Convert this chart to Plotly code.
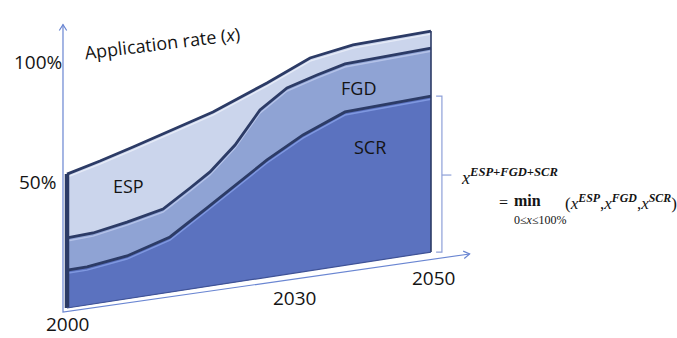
import math
import plotly.graph_objects as go

# ---------------- data (years / application rate in %) ----------------
floor_years = [2000, 2050]
floor_pct = [-2.5, 20.8]

scr_years = [2000, 2002.75, 2008.24, 2014.15, 2019.23, 2023.76, 2027.47, 2032.42, 2038.19, 2050]
scr_pct = [13.3, 14.6, 19.2, 27.1, 39.2, 50.0, 59.2, 69.6, 79.2, 85.8]

fgd_years = [2000, 2003.57, 2008.24, 2013.19, 2016.9, 2019.64, 2023.08, 2026.51, 2030.22, 2034.34, 2038.19, 2050]
fgd_pct = [26.7, 28.75, 33.3, 38.75, 47.5, 54.2, 65.4, 80.0, 89.2, 94.6, 99.2, 105.8]

esp_years = [2000, 2004.53, 2009.07, 2015.11, 2020.05, 2027.47, 2030.63, 2033.38, 2039.29, 2050]
esp_pct = [53.3, 58.75, 64.6, 72.5, 79.2, 91.25, 96.7, 101.7, 107.1, 112.9]

tick_pct = [100, 50]
tick_pct_labels = ["100%", "50%"]
year_labels = [2000, 2030, 2050]
layer_names = ["ESP", "FGD", "SCR"]

# ---------------- styling ----------------
ESP_FILL = "#cbd5ec"
FGD_FILL = "#8fa3d4"
SCR_FILL = "#5b72bf"
EDGE = "#2c3b66"
AXIS = "#6a86d2"
TXT = "#141414"

X0, X1 = 1990.797, 2083.79
Y0, Y1 = -15.0, 125.833
KX = 677 / (X1 - X0)
KY = 338 / (Y1 - Y0)

fig = go.Figure()


def layer(years, pct, fill):
    xs = list(years) + [floor_years[1], floor_years[0]]
    ys = list(pct) + [floor_pct[1], floor_pct[0]]
    fig.add_trace(go.Scatter(x=xs, y=ys, fill="toself", fillcolor=fill, mode="none",
                             hoverinfo="skip"))


layer(esp_years, esp_pct, ESP_FILL)
layer(fgd_years, fgd_pct, FGD_FILL)
layer(scr_years, scr_pct, SCR_FILL)

# highlight lines just below each outline
for yrs, p, c in [(esp_years, esp_pct, "#e6ebf7"), (fgd_years, fgd_pct, "#b4c2e8"),
                  (scr_years, scr_pct, "#7f98e0")]:
    fig.add_trace(go.Scatter(x=yrs, y=[v - 1.3 for v in p], mode="lines",
                             line=dict(color=c, width=1.4), hoverinfo="skip"))

# dark outlines on the tops
for yrs, p in [(esp_years, esp_pct), (fgd_years, fgd_pct), (scr_years, scr_pct)]:
    fig.add_trace(go.Scatter(x=yrs, y=p, mode="lines",
                             line=dict(color=EDGE, width=2.8), hoverinfo="skip"))

# side edges
fig.add_trace(go.Scatter(x=[floor_years[0], floor_years[0]], y=[floor_pct[0], esp_pct[0]],
                         mode="lines", line=dict(color=EDGE, width=4.5), hoverinfo="skip"))
fig.add_trace(go.Scatter(x=[floor_years[1], floor_years[1]], y=[floor_pct[1], esp_pct[-1]],
                         mode="lines", line=dict(color=EDGE, width=1.6), hoverinfo="skip"))
fig.add_trace(go.Scatter(x=floor_years, y=floor_pct,
                         mode="lines", line=dict(color="#3f5296", width=1.2), hoverinfo="skip"))

# ---------------- axes with open arrows ----------------
origin = (1999.45, -4.2)
y_tip = (1999.45, 115.6)
x_tip = (2055.3, 20.0)


def chevron(tip, base, L=7, ang=32):
    dx = (tip[0] - base[0]) * KX
    dy = (tip[1] - base[1]) * KY
    n = math.hypot(dx, dy)
    ux, uy = dx / n, dy / n
    pts = []
    for s in (1, -1):
        a = math.radians(ang) * s
        rx = ux * math.cos(a) - uy * math.sin(a)
        ry = ux * math.sin(a) + uy * math.cos(a)
        pts.append((tip[0] - L * rx / KX, tip[1] - L * ry / KY))
    return [pts[0][0], tip[0], pts[1][0]], [pts[0][1], tip[1], pts[1][1]]


fig.add_trace(go.Scatter(x=[y_tip[0], origin[0], x_tip[0]], y=[y_tip[1], origin[1], x_tip[1]],
                         mode="lines", line=dict(color=AXIS, width=1.2), hoverinfo="skip"))
for tip in (y_tip, x_tip):
    cx, cy = chevron(tip, origin)
    fig.add_trace(go.Scatter(x=cx, y=cy, mode="lines", line=dict(color=AXIS, width=1.2),
                             hoverinfo="skip"))

# brace along the SCR height at 2050
bx = 2051.5
fig.add_trace(go.Scatter(x=[2050.7, bx, bx, 2050.7], y=[scr_pct[-1], scr_pct[-1], floor_pct[1], floor_pct[1]],
                         mode="lines", line=dict(color="#8ea0d8", width=1.2), hoverinfo="skip"))
fig.add_trace(go.Scatter(x=[bx, 2052.8], y=[52.9, 52.9], mode="lines",
                         line=dict(color="#8ea0d8", width=1.2), hoverinfo="skip"))

# ---------------- text ----------------
SANS = "Open Sans, Liberation Sans, sans-serif"
SERIF = "Liberation Serif, DejaVu Serif, serif"
ann = []
for p, lab in zip(tick_pct, tick_pct_labels):
    ann.append(dict(x=1996.0, y=p, text=lab, showarrow=False, xanchor="center", yanchor="middle",
                    font=dict(family=SANS, size=19, color=TXT)))
year_pos = {2000: (2000.0, -9.3), 2030: (2031.2, 1.7), 2050: (2050.4, 10.0)}
for yv in year_labels:
    xx, yy = year_pos[yv]
    ann.append(dict(x=xx, y=yy, text=str(yv), showarrow=False, font=dict(family=SANS, size=19, color=TXT)))
name_pos = {"ESP": (2008.4, 48.3), "FGD": (2040.0, 89.2), "SCR": (2041.6, 64.6)}
for nm in layer_names:
    xx, yy = name_pos[nm]
    ann.append(dict(x=xx, y=yy, text=nm, showarrow=False, font=dict(family=SANS, size=18, color=TXT)))
ann.append(dict(x=2013.0, y=108.0, text="Application rate (<i>x</i>)", showarrow=False, textangle=-7,
                font=dict(family=SANS, size=18, color=TXT)))

# formula
ann.append(dict(x=2053.85, y=52.5, xanchor="left", showarrow=False,
                text="<i>x</i><sup><b><i>ESP+FGD+SCR</i></b></sup>",
                font=dict(family=SERIF, size=18, color=TXT)))
ann.append(dict(x=2059.1, y=41.5, xanchor="left", showarrow=False, text="=",
                font=dict(family=SERIF, size=16, color=TXT)))
ann.append(dict(x=2063.2, y=42.3, xanchor="center", showarrow=False, text="<b>min</b>",
                font=dict(family=SERIF, size=16, color=TXT)))
ann.append(dict(x=2065.1, y=34.2, xanchor="center", showarrow=False, text="0≤<i>x</i>≤100%",
                font=dict(family=SERIF, size=12, color=TXT)))
ann.append(dict(x=2068.1, y=41.5, xanchor="left", showarrow=False,
                text="(<i>x</i><sup><b><i>ESP</i></b></sup>,<i>x</i><sup><b><i>FGD</i></b></sup>,<i>x</i><sup><b><i>SCR</i></b></sup>)",
                font=dict(family=SERIF, size=17, color=TXT)))

fig.update_layout(
    width=677, height=338, margin=dict(l=0, r=0, t=0, b=0),
    paper_bgcolor="white", plot_bgcolor="white", showlegend=False,
    xaxis=dict(range=[X0, X1], visible=False, fixedrange=True),
    yaxis=dict(range=[Y0, Y1], visible=False, fixedrange=True),
    annotations=ann,
)
fig.write_html("out.html", config={"displayModeBar": False},
               post_script="document.body.style.margin='0';document.body.style.padding='0';")
